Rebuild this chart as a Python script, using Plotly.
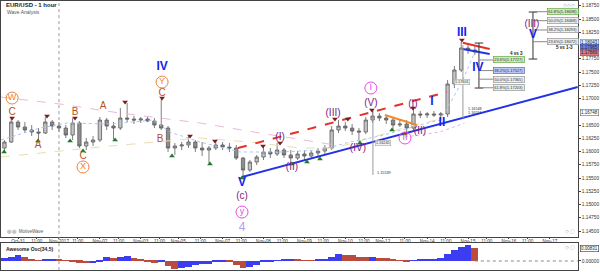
import plotly.graph_objects as go

# ---------------- data (x = trading hours since Oct-31 00:00, weekends collapsed) ----------------
bar_t = [-8, -4, 0, 4, 8, 12, 16, 20, 24, 28, 32, 36, 40, 44, 48, 52, 56, 60, 64, 68,
         72, 76, 80, 84, 88, 92, 96, 100, 104, 108, 112, 116, 120, 124, 128, 132, 136, 140, 144, 148,
         152, 156, 160, 164, 168, 172, 176, 180, 184, 188, 192, 196, 200, 204, 208, 212, 216, 220, 224, 228,
         232, 236, 240, 244, 248, 252, 256, 260, 264, 268]
bar_open = [1.16066, 1.16179, 1.16557, 1.16462, 1.16406, 1.16368, 1.16349, 1.16557, 1.16481, 1.16443,
            1.16311, 1.16538, 1.16104, 1.16179, 1.16217, 1.16594, 1.16481, 1.16443, 1.16632, 1.16613,
            1.16594, 1.16613, 1.16575, 1.16500, 1.16443, 1.16066, 1.16104, 1.16123, 1.16179, 1.16066,
            1.16028, 1.16066, 1.16123, 1.16085, 1.16066, 1.15877, 1.15651, 1.15802, 1.15896, 1.15991,
            1.15953, 1.16028, 1.15934, 1.15877, 1.15953, 1.15915, 1.15972, 1.16009, 1.16066, 1.16406,
            1.16481, 1.16443, 1.16387, 1.16368, 1.16594, 1.16670, 1.16632, 1.16594, 1.16500, 1.16519,
            1.16443, 1.16708, 1.16689, 1.16708, 1.16689, 1.16708, 1.17274, 1.17538, 1.17953, 1.17915]
bar_high = [1.16217, 1.16632, 1.16594, 1.16557, 1.16500, 1.16443, 1.16651, 1.16594, 1.16557, 1.16500,
            1.16632, 1.16575, 1.16255, 1.16292, 1.16651, 1.16632, 1.16557, 1.16821, 1.16915, 1.16670,
            1.16651, 1.16670, 1.16632, 1.16991, 1.16481, 1.16160, 1.16179, 1.16292, 1.16217, 1.16179,
            1.16104, 1.16198, 1.16179, 1.16160, 1.16123, 1.15896, 1.15840, 1.15934, 1.16104, 1.16066,
            1.16160, 1.16066, 1.16028, 1.16009, 1.16028, 1.16028, 1.16066, 1.16123, 1.16481, 1.16594,
            1.16557, 1.16519, 1.16443, 1.16651, 1.16764, 1.16726, 1.16689, 1.16651, 1.16613, 1.16594,
            1.16821, 1.16764, 1.16745, 1.16764, 1.16745, 1.17349, 1.17613, 1.18066, 1.18028, 1.17991]
bar_low = [1.16009, 1.16160, 1.16406, 1.16349, 1.16292, 1.16217, 1.16330, 1.16406, 1.16368, 1.16255,
           1.16217, 1.16066, 1.16028, 1.16104, 1.16179, 1.16406, 1.16236, 1.16406, 1.16557, 1.16519,
           1.16538, 1.16557, 1.16443, 1.16406, 1.15991, 1.15934, 1.16028, 1.16066, 1.15991, 1.15915,
           1.15783, 1.16028, 1.16028, 1.15991, 1.15840, 1.15519, 1.15613, 1.15745, 1.15840, 1.15877,
           1.15915, 1.15877, 1.15783, 1.15840, 1.15821, 1.15877, 1.15877, 1.15934, 1.16028, 1.16349,
           1.16387, 1.16311, 1.16179, 1.16330, 1.16538, 1.16575, 1.16519, 1.16425, 1.16462, 1.16349,
           1.16406, 1.16632, 1.16632, 1.16651, 1.16594, 1.16651, 1.17198, 1.17500, 1.17840, 1.17821]
bar_close = [1.16179, 1.16557, 1.16462, 1.16406, 1.16368, 1.16349, 1.16557, 1.16481, 1.16443, 1.16311,
             1.16538, 1.16104, 1.16179, 1.16217, 1.16594, 1.16481, 1.16443, 1.16632, 1.16613, 1.16594,
             1.16613, 1.16575, 1.16500, 1.16443, 1.16066, 1.16104, 1.16123, 1.16179, 1.16066, 1.16028,
             1.16066, 1.16123, 1.16085, 1.16066, 1.15877, 1.15651, 1.15802, 1.15896, 1.15991, 1.15953,
             1.16028, 1.15934, 1.15877, 1.15953, 1.15915, 1.15972, 1.16009, 1.16066, 1.16406, 1.16481,
             1.16443, 1.16387, 1.16368, 1.16594, 1.16670, 1.16632, 1.16594, 1.16500, 1.16519, 1.16443,
             1.16708, 1.16689, 1.16708, 1.16689, 1.16708, 1.17274, 1.17538, 1.17953, 1.17915, 1.17877]
awesome_osc = [0.0020, 0.0030, 0.0040, 0.0028, 0.0012, 0.0006, 0.0008, 0.0014, 0.0010, 0.0002,
               -0.0004, -0.0012, -0.0016, -0.0014, -0.0006, 0.0026, 0.0022, 0.0030, 0.0032, 0.0022,
               0.0010, -0.0004, -0.0012, -0.0010, -0.0034, -0.0055, -0.0050, -0.0040, -0.0030, -0.0024,
               -0.0020, -0.0008, -0.0004, -0.0010, -0.0025, -0.0050, -0.0042, -0.0025, -0.0010, -0.0002,
               0.0006, 0.0010, 0.0012, 0.0008, 0.0004, 0.0002, 0.0008, 0.0016, 0.0030, 0.0046,
               0.0044, 0.0038, 0.0030, 0.0026, 0.0026, 0.0024, 0.0020, 0.0010, 0.0002, -0.0006,
               0.0004, 0.0010, 0.0014, 0.0014, 0.0020, 0.0050, 0.0078, 0.0098, 0.0110, 0.0090]

tick_t = [0, 11, 24, 35, 48, 59, 72, 83, 94, 107, 120, 131, 144, 155, 168, 179, 192, 203,
          214, 227, 240, 251, 264, 275, 288, 299, 312]
tick_text = ["Oct-31", "11:00", "Nov-2017", "11:00", "Nov-02", "11:00", "Nov-03", "11:00", "Nov-05",
             "11:00", "Nov-07", "11:00", "Nov-08", "11:00", "Nov-09", "11:00", "Nov-10", "11:00",
             "Nov-12", "11:00", "Nov-14", "11:00", "Nov-15", "11:00", "Nov-16", "11:00", "Nov-17"]
price_ticks = [1.145, 1.1475, 1.15, 1.1525, 1.155, 1.1575, 1.16, 1.1625, 1.165, 1.17,
               1.1725, 1.175, 1.1775, 1.1825, 1.185, 1.1875]

# wave labels
blue_t = [84.5, 131.4, 242.8, 248.7, 260.4, 269.8, 302.1]
blue_p = [1.17594, 1.15406, 1.16934, 1.16538, 1.18236, 1.17575, 1.18198]
blue_txt = ["IV", "V", "I", "II", "III", "IV", "V"]
orange_t = [-3.5, 11.7, 33.4, 38.1, 49.9, 84.5, 83.3]
orange_p = [1.16745, 1.16104, 1.16745, 1.15915, 1.16840, 1.17104, 1.16236]
orange_txt = ["C", "A", "B", "C", "A", "C", "B"]
orange_circ_t = [-3.5, 38.1, 84.5]
orange_circ_p = [1.17009, 1.15708, 1.17311]
orange_circ_txt = ["W", "X", "Y"]
purple_t = [131.4, 153.7, 160.7, 184.8, 199.4, 207.0, 231.7, 235.8, 301.5]
purple_p = [1.15142, 1.16255, 1.15689, 1.16708, 1.16066, 1.16915, 1.16896, 1.16387, 1.18406]
purple_txt = ["(c)", "(I)", "(II)", "(III)", "(IV)", "(V)", "(I)", "(II)", "(III)"]
pink_circ_t = [131.4, 207.0, 227.0]
pink_circ_p = [1.14858, 1.17198, 1.16255]
pink_circ_txt = ["y", "I", "II"]
lav_t = [131.4]
lav_p = [1.14557]
lav_txt = ["4"]

# swing markers
hi_t = [-3.5, 17.0, 33.4, 62.8, 84.5, 100.9, 115.5, 143.7, 153.7, 185.9, 193.5, 207.6, 231.7, 260.4]
hi_p = [1.16632, 1.16670, 1.16632, 1.16934, 1.17009, 1.16292, 1.16198, 1.16104, 1.16160, 1.16613,
        1.16613, 1.16783, 1.16821, 1.18104]
lo_t = [-8.2, 11.7, 30.5, 38.1, 56.9, 90.3, 112.6, 131.4, 160.7, 169.5, 177.1, 200.6, 219.4, 227.0]
lo_p = [1.15991, 1.16198, 1.16198, 1.16009, 1.16217, 1.15915, 1.15764, 1.15500, 1.15764, 1.15802,
        1.15858, 1.16160, 1.16406, 1.16330]

# trend lines
red_dash_t = [129.0, 251.6]
red_dash_p = [1.16066, 1.17123]
blue_chan_t = [131.4, 328.4]
blue_chan_p = [1.15519, 1.17217]
orange_seg_t = [215.2, 234.0]
orange_seg_p = [1.16689, 1.16500]
red_top_t = [260.9, 276.7]
red_top_p = [1.18053, 1.17934]
blue_top_t = [260.9, 276.7]
blue_top_p = [1.17934, 1.17840]

# moving averages
pink_ma_t = [-10, 24.6, 59.8, 106.7, 141.9, 185.9]
pink_ma_p = [1.17028, 1.16896, 1.16726, 1.16538, 1.16349, 1.16123]
tan_ma_t = [-10, 48.1, 106.7, 136.0, 165.4, 185.9, 206.5, 229.9, 250.4]
tan_ma_p = [1.15896, 1.16085, 1.16255, 1.16179, 1.16066, 1.16066, 1.16255, 1.16481, 1.16632]
lblue_ma_t = [-10, 12.9, 28.7, 53.9, 79.2, 89.1, 106.7, 130.2, 153.7, 177.1, 194.7, 212.3, 235.8,
              247.5, 252.2, 260.4, 268.0]
lblue_ma_p = [1.16217, 1.16443, 1.16538, 1.16519, 1.16594, 1.16368, 1.16179, 1.15991, 1.15991,
              1.16028, 1.16179, 1.16292, 1.16500, 1.16594, 1.16840, 1.17311, 1.17877]
lav_ma_t = [227.0, 247.5, 262.0]
lav_ma_p = [1.16274, 1.16368, 1.16538]

# fibonacci projections
fib4_t = 270.4
fib4_box_t = 287.8
fib4_range = [1.18047, 1.17198]
fib4_levels = [1.17727, 1.17527, 1.17365, 1.17203]
fib4_labels = ["23.6%(1.17727)", "38.2%(1.17527)", "50.0%(1.17365)", "61.8%(1.17203)"]
fib5_t = 302.1
fib5_box_t = 319.6
fib5_range = [1.18632, 1.17745]
fib5_levels = [1.18638, 1.18468, 1.18293, 1.18072]
fib5_labels = ["61.8%(1.18638)", "50.0%(1.18468)", "38.2%(1.18293)", "23.6%(1.18072)"]

measure1_t = 208.2
measure1_p = [1.16764, 1.15557]
measure2_t = 261.0
measure2_p = [1.18009, 1.16632]

# ---------------- figure ----------------
FONT = "Liberation Sans, Arial, sans-serif"
fig = go.Figure()

def line(t, p, color, width=1, dash="solid", xa="x", ya="y"):
    fig.add_trace(go.Scatter(x=t, y=p, mode="lines", line=dict(color=color, width=width, dash=dash),
                             hoverinfo="skip", xaxis=xa, yaxis=ya))

# moving averages (behind bars)
line(pink_ma_t, pink_ma_p, "#e9b8dc", 1, "dash")
line(tan_ma_t, tan_ma_p, "#eadbb0", 1, "dash")
line(lblue_ma_t, lblue_ma_p, "#a9c4f2", 1, "dot")
line(lav_ma_t, lav_ma_p, "#e6b4ea", 1, "dot")

fig.add_trace(go.Candlestick(
    x=bar_t, open=bar_open, high=bar_high, low=bar_low, close=bar_close,
    increasing=dict(line=dict(color="#5e5e5e", width=0.8), fillcolor="#c4c4c4"),
    decreasing=dict(line=dict(color="#5e5e5e", width=0.8), fillcolor="#8e8e8e"),
    whiskerwidth=0, hoverinfo="skip", xaxis="x", yaxis="y"))

# trend lines
line(red_dash_t, red_dash_p, "#e8302a", 2, "dash")
line(blue_chan_t, blue_chan_p, "#2232e6", 2)
line(orange_seg_t, orange_seg_p, "#f08a30", 2)
line(red_top_t, red_top_p, "#e8302a", 2)
line(blue_top_t, blue_top_p, "#2232e6", 2)

# measurement lines
line([measure1_t, measure1_t], measure1_p, "#9a9a9a", 1)
line([measure2_t, measure2_t], measure2_p, "#9a9a9a", 1)
line([fib4_t, fib4_t], fib4_range, "#333333", 1)
line([fib5_t, fib5_t], fib5_range, "#333333", 1)
for lv in fib4_range:
    line([fib4_t - 2.5, fib4_t + 2.5], [lv, lv], "#333333", 1)
for lv in fib5_range:
    line([fib5_t - 2.5, fib5_t + 2.5], [lv, lv], "#333333", 1)
for lv in fib4_levels:
    line([fib4_t, fib4_box_t - 7.5], [lv, lv], "#888888", 1)
for lv in fib5_levels:
    line([fib5_t, fib5_box_t - 7.5], [lv, lv], "#888888", 1)

# swing markers
fig.add_trace(go.Scatter(x=hi_t, y=hi_p, mode="markers", hoverinfo="skip",
                         marker=dict(symbol="triangle-down", size=5, color="#7a1c1c")))
fig.add_trace(go.Scatter(x=lo_t, y=lo_p, mode="markers", hoverinfo="skip",
                         marker=dict(symbol="triangle-up", size=5, color="#1e7a26")))

def labels(t, p, txt, color, size, weight="normal"):
    fig.add_trace(go.Scatter(x=t, y=p, mode="text", text=txt, hoverinfo="skip",
                             textfont=dict(family=FONT, size=size, color=color, weight=weight)))

def circled(t, p, txt, color, size, msize):
    fig.add_trace(go.Scatter(x=t, y=p, mode="markers+text", text=txt, textposition="middle center",
                             hoverinfo="skip",
                             marker=dict(symbol="circle-open", size=msize, color=color,
                                         line=dict(color=color, width=1)),
                             textfont=dict(family=FONT, size=size, color=color)))

labels(blue_t, blue_p, blue_txt, "#1424f0", 12, "bold")
labels(orange_t, orange_p, orange_txt, "#b8501c", 10)
circled(orange_circ_t, orange_circ_p, orange_circ_txt, "#f0823a", 9, 12)
labels(purple_t, purple_p, purple_txt, "#80207e", 10)
circled(pink_circ_t, pink_circ_p, pink_circ_txt, "#e64ce6", 9, 12)
labels(lav_t, lav_p, lav_txt, "#b4a0ea", 12)

# awesome oscillator
osc_colors = ["#3c3cf0"] + ["#3c3cf0" if awesome_osc[i] >= awesome_osc[i - 1] else "#b84c3e"
                            for i in range(1, len(awesome_osc))]
fig.add_trace(go.Bar(x=bar_t, y=awesome_osc, width=4, marker=dict(color=osc_colors, line=dict(width=0)),
                     hoverinfo="skip", xaxis="x2", yaxis="y2"))
line([bar_t[-1], 330], [0, 0], "#888888", 1, "dot", "x2", "y2")

ann = []
def txt(x, y, s, size=5, color="#222", bold=False, xref="paper", yref="paper", xanchor="left", **kw):
    ann.append(dict(x=x, y=y, xref=xref, yref=yref, text=("<b>%s</b>" % s) if bold else s,
                    showarrow=False, xanchor=xanchor, yanchor="middle",
                    font=dict(family=FONT, size=size, color=color), **kw))

txt(0.007, 0.982, "EUR/USD - 1 hour", 6, "#222", True)
txt(0.009, 0.955, "Wave Analysis", 5, "#555")
txt(0.009, 0.149, "◎ ◎  MotiveWave", 4.5, "#555")
txt(0.007, 0.086, "Awesome Osc(34,5)", 5, "#222", True)
txt(0.962, 0.983, "◇◇◇", 5, "#aaa", xanchor="right")
txt(0.962, 0.150, "◇ ▢", 5, "#aaa", xanchor="right")
txt(0.962, 0.092, "◇ ▢", 5, "#aaa", xanchor="right")

fib4_fill = ["#cfe9b8", "#bcc8f2", "#ececec", "#ececec"]
fib4_border = ["#5aa03a", "#5060c0", "#888888", "#888888"]
for lv, lb, fc, bc in zip(fib4_levels, fib4_labels, fib4_fill, fib4_border):
    txt(fib4_box_t, lv, lb, 4, "#333", xref="x", yref="y", xanchor="center",
        bgcolor=fc, bordercolor=bc, borderwidth=0.6, borderpad=0.6)
fib5_fill = ["#cfe9b8", "#ececec", "#ececec", "#ececec"]
fib5_border = ["#5aa03a", "#888888", "#888888", "#888888"]
for lv, lb, fc, bc in zip(fib5_levels, fib5_labels, fib5_fill, fib5_border):
    txt(fib5_box_t, lv, lb, 4, "#333", xref="x", yref="y", xanchor="center",
        bgcolor=fc, bordercolor=bc, borderwidth=0.6, borderpad=0.6)
txt(292.7, 1.17858, "4 vs 3", 4.5, "#222", True, xref="x", yref="y", xanchor="center")
txt(320.8, 1.17972, "5 vs 1-3", 4.5, "#222", True, xref="x", yref="y", xanchor="center")

txt(measure1_t + 1.5, 1.16160, "1.16245", 3.8, "#333", xref="x", yref="y",
    bgcolor="#f2f2f2", bordercolor="#999", borderwidth=0.5, borderpad=0.4)
txt(measure1_t + 1.5, 1.15594, "1.15539", 3.8, "#333", xref="x", yref="y")
txt(measure2_t - 5, 1.17311, "1.17601", 3.8, "#333", xref="x", yref="y",
    bgcolor="#f2f2f2", bordercolor="#999", borderwidth=0.5, borderpad=0.4)
txt(measure2_t + 2, 1.16802, "1.16548", 3.8, "#333", xref="x", yref="y")
txt(measure2_t + 2, 1.16726, "1.16551", 3.8, "#333", xref="x", yref="y")

# right axis value boxes
axis_box_p = [1.18053, 1.17958, 1.17864, 1.16732]
axis_box_txt = ["1.18043", "1.17965", "1.17889", "1.16748"]
axis_box_fill = ["#dfe8f8", "#6f7fd6", "#d67a86", "#ffffff"]
axis_box_border = ["#6080c0", "#3040a0", "#a04050", "#666666"]
for p, s, fc, bc in zip(axis_box_p, axis_box_txt, axis_box_fill, axis_box_border):
    txt(0.966, p, s, 4.5, "#222", yref="y", bgcolor=fc, bordercolor=bc, borderwidth=0.6, borderpad=0.5)
txt(0.966, 0.0083, "0.00831", 4.5, "#222", yref="y2", bgcolor="#ffffff", bordercolor="#333",
    borderwidth=0.6, borderpad=0.5)

shapes = [dict(type="line", xref="x", yref="paper", x0=24, x1=24, y0=0.007, y1=0.996,
               line=dict(color="#999999", width=1, dash="dot"))]

axis_common = dict(showgrid=False, zeroline=False, showline=True, linecolor="#444444", mirror=True,
                   linewidth=1)
fig.update_layout(
    width=600, height=272, margin=dict(l=0, r=0, t=0, b=0),
    paper_bgcolor="white", plot_bgcolor="white", showlegend=False, bargap=0,
    annotations=ann, shapes=shapes,
    xaxis=dict(domain=[0.0017, 0.963], range=[-10.0, 328.4], anchor="y", tickvals=tick_t,
               ticktext=tick_text, tickfont=dict(family=FONT, size=4.6, color="#333"),
               ticks="outside", ticklen=1.5, tickcolor="#444", ticklabelstandoff=-2,
               rangeslider=dict(visible=False), **axis_common),
    yaxis=dict(domain=[0.1287, 0.9963], range=[1.14387, 1.18840], side="right", anchor="x",
               tickvals=price_ticks, tickformat=".5f", tickfont=dict(family=FONT, size=4.8, color="#333"),
               ticks="outside", ticklen=2, tickcolor="#444", **axis_common),
    xaxis2=dict(domain=[0.0017, 0.963], range=[-10.0, 328.4], anchor="y2", showticklabels=False,
                **axis_common),
    yaxis2=dict(domain=[0.0074, 0.1066], range=[-0.00623, 0.01245], side="right", anchor="x2",
                tickvals=[0], ticktext=["0.00000"], tickfont=dict(family=FONT, size=4.8, color="#333"),
                ticks="outside", ticklen=2, tickcolor="#444", **axis_common),
)

fig.write_html("out.html")
